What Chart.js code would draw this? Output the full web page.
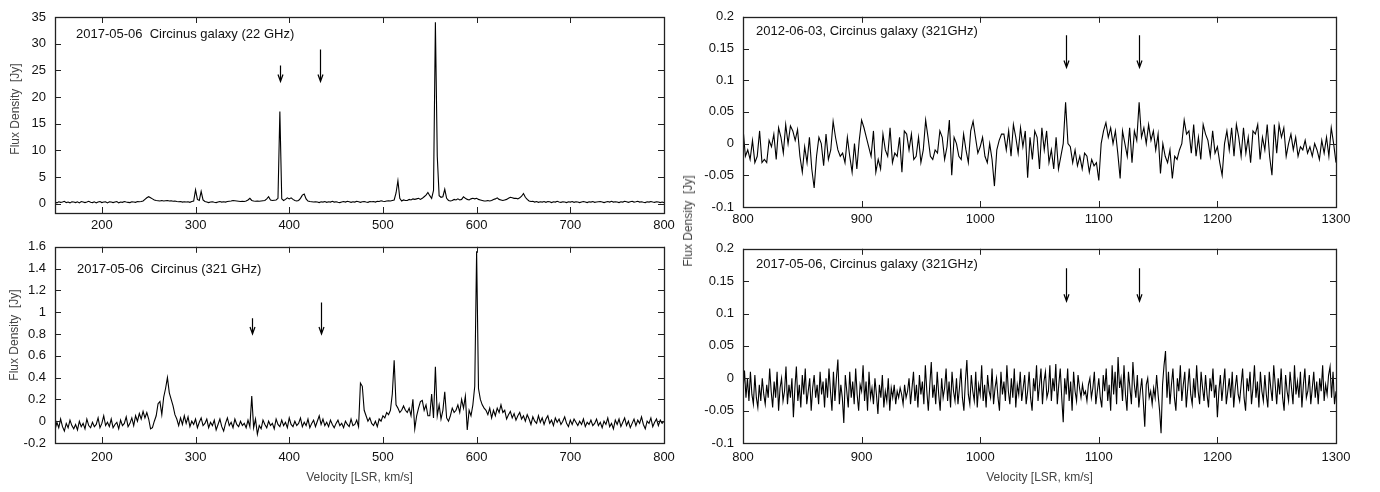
<!doctype html>
<html lang="en">
<head>
<meta charset="utf-8">
<title>Circinus galaxy spectra</title>
<script src="https://cdn.jsdelivr.net/npm/chart.js"></script>
<style>
  body { margin: 0; background: #fff; width: 1380px; height: 492px; position: relative; overflow: hidden;
         font-family: "Liberation Sans", Arial, sans-serif; }
  .panel { position: absolute; }
  .ytitle { position: absolute; transform: translate(-50%, -50%) rotate(-90deg); font-size: 12px;
            color: #444; white-space: pre; line-height: 1; }
</style>
</head>
<body>
<div class="panel" style="left:0;top:0"><canvas id="tl" width="690" height="246"></canvas></div>
<div class="panel" style="left:0;top:230px"><canvas id="bl" width="690" height="262"></canvas></div>
<div class="panel" style="left:680px;top:0"><canvas id="tr" width="700" height="240"></canvas></div>
<div class="panel" style="left:680px;top:232px"><canvas id="br" width="700" height="260"></canvas></div>
<div class="ytitle" style="left:15px;top:109px">Flux Density  [Jy]</div>
<div class="ytitle" style="left:14px;top:335px">Flux Density  [Jy]</div>
<div class="ytitle" style="left:688px;top:221px">Flux Density  [Jy]</div>

<script>
// velocity grids (km/s, LSR)
const leftStart = 150, leftStep = 2;
const trStart = 800, trStep = 2;
const brStart = 800, brStep = 1.25;

// 2017-05-06 Circinus 22 GHz, 150..800 km/s
const flux22 = [
  0.3,0.15,0.35,0.25,0.3,0.45,0.2,0.3,0.15,0.35,   // 150
  0.3,0.2,0.35,0.15,0.4,0.3,0.2,0.3,0.45,0.25,     // 170
  0.2,0.35,0.15,0.3,0.4,0.2,0.3,0.35,0.15,0.35,    // 190
  0.3,0.2,0.3,0.4,0.15,0.3,0.25,0.4,0.3,0.25,      // 210
  0.2,0.35,0.3,0.25,0.4,0.35,0.4,0.5,0.8,1.1,      // 230
  1.3,1.1,0.9,0.7,0.6,0.55,0.5,0.6,0.5,0.55,       // 250
  0.6,0.5,0.55,0.45,0.5,0.4,0.35,0.4,0.3,0.35,     // 270
  0.3,0.35,0.25,0.4,0.5,2.6,0.8,0.6,2.3,0.7,       // 290
  0.4,0.3,0.2,0.3,0.35,0.25,0.2,0.3,0.4,0.3,       // 310
  0.35,0.3,0.4,0.45,0.5,0.6,0.55,0.5,0.45,0.4,     // 330
  0.45,0.4,0.5,0.7,1.0,0.6,0.5,0.45,0.5,0.45,      // 350
  0.5,0.55,0.6,0.9,1.3,0.7,0.6,0.65,0.7,1.0,       // 370
  17.3,0.9,0.6,0.8,1.1,0.9,1.1,0.8,0.6,0.5,        // 390
  0.6,1.0,1.6,1.8,0.9,0.5,0.4,0.35,0.3,0.35,       // 410
  0.3,0.2,0.35,0.3,0.4,0.25,0.35,0.3,0.45,0.3,     // 430
  0.35,0.25,0.2,0.3,0.4,0.3,0.45,0.35,0.25,0.35,   // 450
  0.3,0.45,0.35,0.25,0.35,0.4,0.3,0.25,0.4,0.35,   // 470
  0.4,0.3,0.45,0.4,0.55,0.45,0.4,0.5,0.55,0.5,     // 490
  0.6,0.7,2.0,4.3,1.0,0.5,0.7,0.6,0.6,0.8,         // 510
  0.7,0.9,0.8,0.9,1.0,0.8,1.0,1.3,1.6,2.1,         // 530
  1.5,1.0,2.5,34.0,8.9,1.5,1.2,1.3,2.7,1.0,        // 550
  0.6,0.5,0.6,0.8,0.7,0.9,0.7,0.8,1.3,1.0,         // 570
  0.8,0.7,0.9,1.0,0.9,1.0,0.8,0.7,0.6,0.5,         // 590
  0.5,0.6,0.5,0.6,0.8,0.9,1.1,0.8,0.7,0.6,         // 610
  0.7,0.8,1.0,1.2,1.1,1.0,1.0,0.9,1.1,1.4,         // 630
  1.9,1.2,0.8,0.5,0.4,0.45,0.3,0.4,0.25,0.35,      // 650
  0.3,0.4,0.25,0.4,0.35,0.2,0.35,0.3,0.45,0.3,     // 670
  0.25,0.35,0.3,0.2,0.35,0.3,0.4,0.25,0.35,0.3,    // 690
  0.2,0.3,0.4,0.3,0.2,0.35,0.3,0.4,0.25,0.3,       // 710
  0.35,0.4,0.3,0.2,0.3,0.4,0.3,0.45,0.3,0.35,      // 730
  0.3,0.2,0.35,0.3,0.45,0.35,0.25,0.35,0.45,0.3,   // 750
  0.35,0.45,0.3,0.35,0.25,0.2,0.35,0.3,0.4,0.3,    // 770
  0.25,0.35,0.3,0.2,0.3,0.2                        // 790
];

// 2017-05-06 Circinus 321 GHz, 150..800 km/s
const flux321 = [
  -0.08,-0.01,-0.06,0.02,-0.05,-0.09,-0.02,-0.06,0.01,-0.04,  // 150
  -0.07,-0.03,-0.08,0.0,-0.05,-0.02,-0.07,0.02,-0.04,-0.06,   // 170
  -0.01,-0.05,-0.03,0.03,-0.06,-0.02,0.05,-0.04,-0.01,-0.05,  // 190
  0.02,-0.06,-0.03,-0.01,-0.07,0.01,-0.04,-0.02,0.04,-0.05,   // 210
  -0.02,0.03,-0.04,0.05,0.0,0.07,0.02,0.09,0.03,0.08,         // 230
  0.02,-0.07,-0.06,0.0,0.05,0.16,0.18,0.06,0.22,0.3,          // 250
  0.4,0.26,0.2,0.14,0.06,0.02,-0.04,0.03,-0.03,0.05,          // 270
  -0.02,0.04,-0.05,0.0,-0.03,0.02,-0.06,-0.01,0.03,-0.04,     // 290
  -0.02,0.02,-0.06,-0.01,-0.04,0.01,-0.08,-0.03,0.02,-0.05,   // 310
  -0.09,-0.02,0.03,-0.04,-0.01,-0.06,0.02,-0.03,-0.05,0.0,    // 330
  -0.04,-0.02,-0.06,0.01,-0.05,0.23,-0.06,0.02,-0.12,-0.04,   // 350
  -0.07,0.01,-0.03,-0.06,0.0,-0.04,-0.02,-0.07,0.02,-0.03,    // 370
  -0.05,0.01,-0.04,-0.01,-0.06,0.03,-0.03,-0.05,0.0,-0.04,    // 390
  -0.02,0.03,-0.05,-0.01,-0.04,0.02,-0.06,-0.02,0.01,-0.05,   // 410
  0.0,0.05,-0.03,0.02,-0.04,-0.01,-0.05,0.01,-0.03,-0.06,     // 430
  -0.02,0.01,-0.04,-0.02,-0.06,0.0,-0.03,-0.05,0.02,-0.04,    // 450
  -0.03,0.01,-0.05,0.35,0.32,0.1,0.05,0.0,0.03,-0.02,         // 470
  -0.04,0.0,-0.05,0.02,0.0,0.05,0.03,0.08,0.06,0.1,           // 490
  0.25,0.56,0.15,0.12,0.08,0.1,0.14,0.1,0.08,0.12,            // 510
  0.05,0.2,-0.07,0.05,0.12,0.18,0.19,0.1,0.15,0.05,           // 530
  0.05,0.25,0.03,0.5,0.05,0.15,0.02,0.1,0.27,0.03,            // 550
  0.0,0.05,0.12,0.08,0.1,0.15,0.08,0.2,0.12,0.23,             // 570
  -0.08,0.1,0.05,0.15,0.32,1.56,0.3,0.2,0.15,0.12,            // 590
  0.1,0.06,0.12,0.03,0.1,0.05,0.12,0.08,0.15,0.08,            // 610
  0.1,0.02,0.06,0.09,0.03,0.07,0.01,0.05,0.08,0.02,           // 630
  0.05,0.0,0.06,0.02,-0.03,0.04,0.0,-0.02,0.05,-0.01,         // 650
  0.03,-0.03,0.02,0.05,-0.02,0.01,-0.04,0.03,-0.01,0.02,      // 670
  -0.03,0.0,0.04,-0.02,-0.05,0.01,-0.03,0.02,-0.01,-0.04,     // 690
  0.0,-0.03,0.02,-0.05,-0.01,-0.03,0.01,-0.04,-0.02,0.02,     // 710
  -0.04,-0.01,-0.06,0.0,-0.03,0.03,-0.05,-0.02,-0.07,0.01,    // 730
  -0.03,0.02,-0.05,-0.01,0.03,-0.04,0.0,-0.06,-0.02,0.02,     // 750
  -0.04,0.01,-0.02,0.04,-0.03,-0.07,0.0,-0.02,0.03,-0.05,     // 770
  -0.01,0.02,-0.04,0.01,-0.02,0.0                             // 790
];

// 2012-06-03 Circinus 321 GHz, 800..1300 km/s
const flux2012 = [
  0.025,-0.02,-0.01,-0.025,0.005,-0.03,-0.02,0.02,-0.03,-0.025,    // 800
  -0.03,0.005,-0.005,0.015,-0.025,0.025,0.01,-0.015,0.03,0.0,      // 820
  0.028,0.02,0.005,0.022,-0.02,-0.045,-0.005,-0.03,0.01,-0.04,     // 840
  -0.07,-0.02,0.01,0.0,-0.035,0.015,-0.025,-0.01,0.035,0.01,       // 860
  -0.01,-0.02,-0.015,-0.03,0.01,-0.02,-0.045,0.0,-0.04,0.005,      // 880
  0.037,0.025,0.01,-0.005,-0.02,0.02,-0.045,-0.025,-0.04,0.015,    // 900
  -0.01,-0.02,0.025,-0.03,-0.015,-0.02,0.01,-0.045,0.02,0.015,     // 920
  -0.01,0.015,-0.025,-0.02,0.01,-0.03,-0.01,0.037,0.01,-0.02,      // 940
  -0.025,-0.01,-0.015,0.02,0.01,-0.025,-0.005,0.037,-0.05,0.01,    // 960
  0.0,-0.02,-0.025,0.015,-0.01,-0.03,0.02,0.035,0.01,-0.015,       // 980
  -0.005,0.01,-0.02,-0.03,0.0,-0.025,-0.067,-0.01,0.005,0.015,     // 1000
  0.015,-0.01,0.02,-0.02,0.03,0.01,-0.015,0.025,-0.005,0.02,       // 1020
  -0.054,0.01,-0.025,0.02,0.01,-0.04,0.025,-0.01,0.02,-0.03,       // 1040
  -0.01,-0.04,0.01,-0.04,-0.02,0.0,0.065,0.0,-0.005,-0.03,         // 1060
  -0.01,-0.035,-0.02,-0.04,-0.015,-0.02,-0.045,-0.025,-0.035,-0.03,// 1080
  -0.058,0.0,0.02,0.033,0.01,0.025,0.0,0.02,-0.015,-0.055,         // 1100
  0.02,0.0,-0.02,0.025,-0.03,0.02,0.005,0.065,0.01,0.025,          // 1120
  0.0,0.03,0.005,0.02,-0.01,0.015,-0.047,0.0,-0.02,-0.03,          // 1140
  -0.01,-0.055,-0.02,-0.025,-0.01,0.0,0.037,0.015,0.02,-0.015,     // 1160
  0.03,-0.02,0.01,-0.025,0.03,0.015,0.005,-0.02,0.02,-0.015,       // 1180
  -0.005,-0.03,-0.05,0.0,0.02,-0.01,0.025,-0.02,0.03,0.01,         // 1200
  -0.02,0.025,-0.015,0.01,-0.03,0.02,0.015,0.03,-0.025,0.01,       // 1220
  -0.01,0.03,-0.02,-0.05,0.03,-0.015,0.03,0.01,0.025,-0.02,        // 1240
  0.0,0.015,-0.01,0.01,-0.02,-0.005,-0.01,0.005,-0.015,-0.005,     // 1260
  -0.02,0.0,-0.01,-0.025,0.005,-0.015,0.01,-0.02,0.025,0.0,        // 1280
  -0.03                                                            // 1300
];

// 2017-05-06 Circinus 321 GHz, 800..1300 km/s
const flux2017 = [
  -0.02,0.012,-0.03,0.0,-0.035,0.01,-0.025,-0.04,0.005,-0.03,-0.045,-0.01,-0.035,0.0,-0.025,-0.04,   // 800
  -0.01,-0.03,0.015,-0.02,-0.045,-0.005,-0.03,0.01,-0.05,-0.015,0.0,-0.035,-0.02,0.018,-0.04,-0.01,  // 820
  -0.03,0.0,-0.06,-0.015,0.018,-0.035,-0.01,-0.045,0.005,-0.025,0.015,-0.04,-0.02,0.0,-0.05,-0.015,  // 840
  0.005,-0.03,-0.01,-0.04,0.01,-0.025,-0.005,-0.045,0.0,-0.03,0.015,-0.02,-0.05,0.01,-0.035,0.0,     // 860
  0.029,-0.04,-0.01,-0.03,-0.069,0.005,-0.02,-0.045,0.01,-0.03,-0.005,-0.04,0.015,-0.025,-0.05,-0.01, // 880
  -0.02,0.02,-0.035,-0.005,-0.05,0.01,-0.03,-0.015,-0.04,0.0,-0.025,-0.055,-0.01,-0.03,0.005,-0.045, // 900
  -0.02,-0.035,0.0,-0.05,-0.015,-0.03,-0.01,-0.04,-0.02,-0.03,-0.015,-0.025,-0.04,-0.01,-0.03,-0.02, // 920
  0.0,-0.04,-0.015,0.01,-0.035,-0.01,-0.045,0.005,-0.025,-0.005,-0.04,0.02,-0.02,-0.05,-0.01,0.025,  // 940
  -0.03,-0.01,-0.04,0.01,-0.025,-0.05,0.0,-0.03,-0.015,0.015,-0.035,-0.005,-0.045,0.01,-0.02,-0.035, // 960
  0.0,-0.04,-0.015,0.015,-0.03,-0.05,-0.005,0.028,-0.025,-0.04,0.005,-0.02,-0.035,0.01,-0.045,-0.01, // 980
  -0.025,0.02,-0.035,-0.01,-0.045,0.005,-0.02,-0.03,0.015,-0.04,-0.015,0.0,-0.03,-0.05,0.01,-0.025,  // 1000
  -0.005,-0.035,0.02,-0.02,-0.04,0.0,-0.03,0.015,-0.045,-0.01,-0.025,0.01,-0.035,-0.015,0.005,-0.04, // 1020
  -0.02,0.01,-0.03,-0.05,0.0,-0.02,0.02,-0.035,-0.01,0.015,-0.04,-0.005,0.01,-0.03,-0.02,0.02,       // 1040
  -0.035,0.0,-0.02,0.022,-0.04,-0.01,0.015,-0.03,-0.068,0.0,-0.025,0.015,-0.035,-0.005,-0.05,0.01,   // 1060
  -0.02,-0.035,0.005,-0.015,-0.03,-0.01,-0.025,-0.02,-0.035,-0.01,0.0,-0.03,-0.015,0.01,-0.04,-0.02, // 1080
  0.0,-0.03,-0.045,0.005,-0.02,0.015,-0.035,-0.01,-0.05,0.02,-0.025,0.01,-0.04,0.033,-0.015,0.0,     // 1100
  -0.035,0.02,-0.025,-0.05,0.01,-0.015,-0.04,0.025,-0.01,-0.03,0.005,-0.045,-0.02,0.0,-0.035,-0.075, // 1120
  -0.01,0.0,-0.03,-0.02,-0.04,-0.015,-0.03,0.005,-0.025,-0.05,-0.085,-0.01,0.02,0.042,-0.03,0.01,    // 1140
  -0.04,-0.01,0.015,-0.03,-0.05,0.0,-0.02,0.02,-0.035,-0.01,0.01,-0.045,-0.015,0.015,-0.025,-0.04,   // 1160
  0.0,-0.03,0.02,-0.02,-0.04,0.01,-0.015,-0.035,0.005,-0.025,-0.045,0.0,-0.02,0.015,-0.03,-0.01,     // 1180
  -0.06,-0.02,0.005,-0.035,-0.01,0.015,-0.04,-0.02,0.0,-0.03,0.01,-0.045,-0.015,0.005,-0.025,-0.035, // 1200
  -0.01,0.015,-0.03,-0.05,0.0,-0.02,0.01,-0.04,-0.015,0.02,-0.03,-0.005,-0.045,0.01,-0.02,-0.035,    // 1220
  0.005,-0.025,-0.045,0.01,-0.015,-0.035,0.02,-0.01,-0.04,0.0,-0.025,0.015,-0.03,-0.05,0.005,-0.02,  // 1240
  -0.035,0.01,-0.015,-0.04,0.02,-0.025,-0.005,-0.03,0.01,-0.045,-0.01,0.015,-0.03,-0.02,0.005,-0.04, // 1260
  -0.015,0.01,-0.03,-0.005,-0.04,0.0,-0.02,0.02,-0.035,-0.01,-0.025,0.005,0.018,-0.03,0.01,-0.04,    // 1280
  -0.02                                                                                              // 1300
];

// tick labels
const leftXTicks = [200, 300, 400, 500, 600, 700, 800];
const rightXTicks = [800, 900, 1000, 1100, 1200, 1300];
const y22Ticks = [0, 5, 10, 15, 20, 25, 30, 35];
const y321Ticks = [-0.2, 0, 0.2, 0.4, 0.6, 0.8, 1, 1.2, 1.4, 1.6];
const yRightTicks = [-0.1, -0.05, 0, 0.05, 0.1, 0.15, 0.2];

// arrows marking velocities (x in km/s, start and tip in Jy)
const arrowV22 = [390, 433], arrowTop22 = [25.9, 28.9], arrowTip22 = [22.9, 22.9];
const arrowV321 = [360.5, 433.5], arrowTop321 = [0.945, 1.09], arrowTip321 = [0.8, 0.8];
const arrowVRight = [1072.5, 1134];
const arrowTop2012 = [0.171, 0.171], arrowTip2012 = [0.12, 0.12];
const arrowTop2017 = [0.17, 0.17], arrowTip2017 = [0.119, 0.119];

Chart.defaults.font.family = '"Liberation Sans", Arial, sans-serif';
Chart.defaults.font.size = 13;
Chart.defaults.color = '#111';

const toPoints = (vals, start, step) => vals.map((f, i) => ({ x: start + i * step, y: f }));

// frame, inward ticks on all sides, panel label, arrows
function decor(cfg) {
  return {
    id: 'decor',
    afterDraw(chart) {
      const { ctx, chartArea: a, scales: { x, y } } = chart;
      ctx.save();
      ctx.strokeStyle = '#222';
      ctx.lineWidth = 1;
      ctx.beginPath();
      x.ticks.forEach(t => {
        const px = Math.round(x.getPixelForValue(t.value)) + 0.5;
        ctx.moveTo(px, a.bottom); ctx.lineTo(px, a.bottom - 6);
        ctx.moveTo(px, a.top); ctx.lineTo(px, a.top + 6);
      });
      y.ticks.forEach(t => {
        const py = Math.round(y.getPixelForValue(t.value)) + 0.5;
        ctx.moveTo(a.left, py); ctx.lineTo(a.left + 6, py);
        ctx.moveTo(a.right, py); ctx.lineTo(a.right - 6, py);
      });
      ctx.stroke();
      ctx.lineWidth = 1.3;
      ctx.strokeRect(Math.round(a.left) + 0.5, Math.round(a.top) + 0.5,
                     Math.round(a.right - a.left), Math.round(a.bottom - a.top));

      ctx.fillStyle = '#111';
      ctx.font = '13px "Liberation Sans", Arial, sans-serif';
      ctx.textBaseline = 'middle';
      ctx.textAlign = 'left';
      ctx.fillText(cfg.label, a.left + cfg.dx, a.top + cfg.dy);

      ctx.strokeStyle = '#000';
      ctx.lineWidth = 1.2;
      cfg.av.forEach((v, i) => {
        const px = Math.round(x.getPixelForValue(v)) + 0.5;
        const y0 = y.getPixelForValue(cfg.atop[i]);
        const y1 = y.getPixelForValue(cfg.atip[i]);
        ctx.beginPath();
        ctx.moveTo(px, y0); ctx.lineTo(px, y1);
        ctx.moveTo(px - 2.5, y1 - 7); ctx.lineTo(px, y1); ctx.lineTo(px + 2.5, y1 - 7);
        ctx.stroke();
      });
      ctx.restore();
    }
  };
}

function makePanel(id, points, p) {
  return new Chart(document.getElementById(id), {
    type: 'line',
    data: { datasets: [{ data: points, borderColor: '#000', borderWidth: 1.1,
                         pointRadius: 0, tension: 0, fill: false }] },
    options: {
      responsive: false, animation: false, devicePixelRatio: 1,
      parsing: false, normalized: true,
      layout: { padding: p.pad },
      plugins: { legend: { display: false }, tooltip: { enabled: false } },
      scales: {
        x: {
          type: 'linear', min: p.xmin, max: p.xmax,
          grid: { display: false, drawTicks: false }, border: { display: false },
          ticks: { padding: p.xpad, autoSkip: false, maxRotation: 0, callback: v => String(v) },
          afterBuildTicks: s => { s.ticks = p.xticks.map(v => ({ value: v })); },
          afterFit: s => { s.height = p.xh; },
          title: { display: !!p.xtitle, text: p.xtitle || '', color: '#444',
                   font: { size: 12 }, padding: { top: 0, bottom: 7 } }
        },
        y: {
          type: 'linear', min: p.ymin, max: p.ymax,
          grid: { display: false, drawTicks: false }, border: { display: false },
          ticks: { padding: 9, autoSkip: false, callback: v => String(v) },
          afterBuildTicks: s => { s.ticks = p.yticks.map(v => ({ value: v })); },
          afterFit: s => { s.width = p.yw; }
        }
      }
    },
    plugins: [decor(p.decor)]
  });
}

makePanel('tl', toPoints(flux22, leftStart, leftStep), {
  pad: { left: 0, top: 17, right: 26, bottom: 0 }, xh: 33, yw: 55, xpad: 5,
  xmin: 150, xmax: 800, ymin: -1.75, ymax: 35, xticks: leftXTicks, yticks: y22Ticks,
  decor: { label: '2017-05-06  Circinus galaxy (22 GHz)', dx: 21, dy: 17,
           av: arrowV22, atop: arrowTop22, atip: arrowTip22 }
});

makePanel('bl', toPoints(flux321, leftStart, leftStep), {
  pad: { left: 0, top: 15, right: 26, bottom: 0 }, xh: 49, yw: 55, xpad: 7,
  xmin: 150, xmax: 800, ymin: -0.2, ymax: 1.6, xticks: leftXTicks, yticks: y321Ticks,
  xtitle: 'Velocity [LSR, km/s]',
  decor: { label: '2017-05-06  Circinus (321 GHz)', dx: 22, dy: 23,
           av: arrowV321, atop: arrowTop321, atip: arrowTip321 }
});

makePanel('tr', toPoints(flux2012, trStart, trStep), {
  pad: { left: 0, top: 11, right: 44, bottom: 0 }, xh: 33, yw: 63, xpad: 5,
  xmin: 800, xmax: 1300, ymin: -0.1, ymax: 0.2, xticks: rightXTicks, yticks: yRightTicks,
  decor: { label: '2012-06-03, Circinus galaxy (321GHz)', dx: 13, dy: 15,
           av: arrowVRight, atop: arrowTop2012, atip: arrowTip2012 }
});

makePanel('br', toPoints(flux2017, brStart, brStep), {
  pad: { left: 0, top: 15, right: 44, bottom: 0 }, xh: 49, yw: 63, xpad: 7,
  xmin: 800, xmax: 1300, ymin: -0.1, ymax: 0.2, xticks: rightXTicks, yticks: yRightTicks,
  xtitle: 'Velocity [LSR, km/s]',
  decor: { label: '2017-05-06, Circinus galaxy (321GHz)', dx: 13, dy: 16,
           av: arrowVRight, atop: arrowTop2017, atip: arrowTip2017 }
});
</script>
</body>
</html>
